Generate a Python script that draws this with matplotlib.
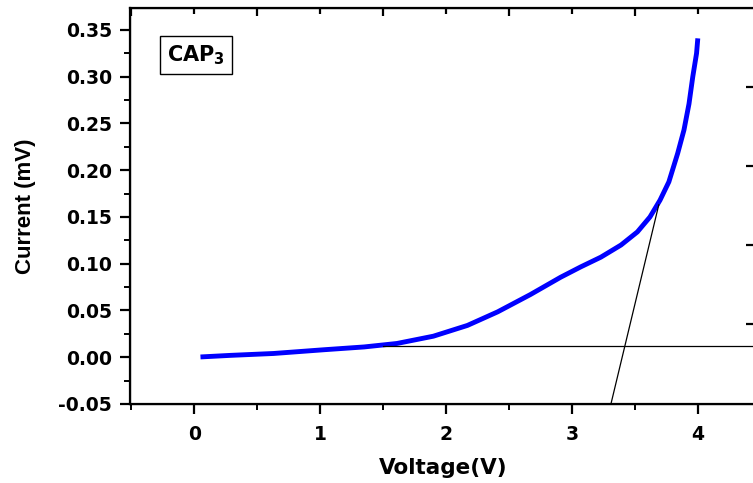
import matplotlib
matplotlib.use("Agg")
import matplotlib.pyplot as plt
from matplotlib.ticker import MultipleLocator

plt.rcParams["font.family"] = ["DejaVu Sans"]
plt.rcParams["font.weight"] = "bold"
plt.rcParams["mathtext.fontset"] = "custom"
plt.rcParams["mathtext.bf"] = "DejaVu Sans:bold"
plt.rcParams["mathtext.rm"] = "DejaVu Sans:bold"

# I-V curve
voltage = [0.05, 0.29, 0.63, 1.03, 1.35, 1.61, 1.90, 2.17, 2.41, 2.67, 2.91,
           3.07, 3.23, 3.39, 3.52, 3.62, 3.70, 3.77, 3.84, 3.89, 3.93, 3.96,
           3.99, 4.00]
current = [0.0003, 0.002, 0.004, 0.008, 0.011, 0.0147, 0.0225, 0.034, 0.0485,
           0.067, 0.0855, 0.0966, 0.107, 0.120, 0.134, 0.150, 0.168, 0.1875,
           0.218, 0.243, 0.271, 0.300, 0.325, 0.341]

# tangent and baseline
tangent_x = [3.31, 3.69]
tangent_y = [-0.05, 0.163]
base_x = [1.5, 4.6]
base_y = [0.012, 0.012]

right_ticks = [0.0356, 0.120, 0.2045, 0.289]

fig = plt.figure(figsize=(7.53, 4.83), dpi=100)
ax = fig.add_axes([0.1726, 0.1636, 0.8327, 0.8199])

ax.plot(voltage, current, color="#0000ff", lw=3.5, solid_capstyle="butt",
        solid_joinstyle="round")
ax.plot(tangent_x, tangent_y, color="black", lw=0.9)
ax.plot(base_x, base_y, color="black", lw=0.9)

ax.set_xlim(-0.51, 4.47)
ax.set_ylim(-0.05, 0.3735)

ax.xaxis.set_major_locator(MultipleLocator(1))
ax.xaxis.set_minor_locator(MultipleLocator(0.5))
ax.yaxis.set_major_locator(MultipleLocator(0.05))
ax.yaxis.set_minor_locator(MultipleLocator(0.025))
ax.yaxis.set_major_formatter(lambda v, p: f"{v:.2f}")

for s in ax.spines.values():
    s.set_linewidth(1.6)

ax.tick_params(which="major", direction="out", length=7, width=1.6,
               labelsize=13.5, pad=6)
ax.tick_params(which="minor", direction="out", length=4, width=1.4)
ax.tick_params(axis="x", which="major", pad=8)

# top ticks pointing inward
top = ax.twiny()
top.set_xlim(ax.get_xlim())
top.xaxis.set_major_locator(MultipleLocator(1))
top.xaxis.set_minor_locator(MultipleLocator(0.5))
top.tick_params(which="major", direction="in", length=4, width=1.6,
                labeltop=False)
top.tick_params(which="minor", direction="in", length=6, width=1.6)

# right side ticks
right = ax.twinx()
right.set_ylim(ax.get_ylim())
right.set_yticks(right_ticks)
right.tick_params(direction="in", length=8, width=1.6, labelright=False)

ax.set_xlabel("Voltage(V)", fontsize=15.5, fontweight="bold", labelpad=10)
ax.set_ylabel("Current (mV)", fontsize=16, fontweight="bold", labelpad=16,
              family="Liberation Sans")

ax.text(0.059, 0.881, r"CAP$_{\mathbf{3}}$", transform=ax.transAxes,
        fontsize=15, fontweight="bold", va="center", ha="left",
        bbox=dict(boxstyle="square,pad=0.35", fc="white", ec="black", lw=1))

fig.savefig("out.png", dpi=100)
